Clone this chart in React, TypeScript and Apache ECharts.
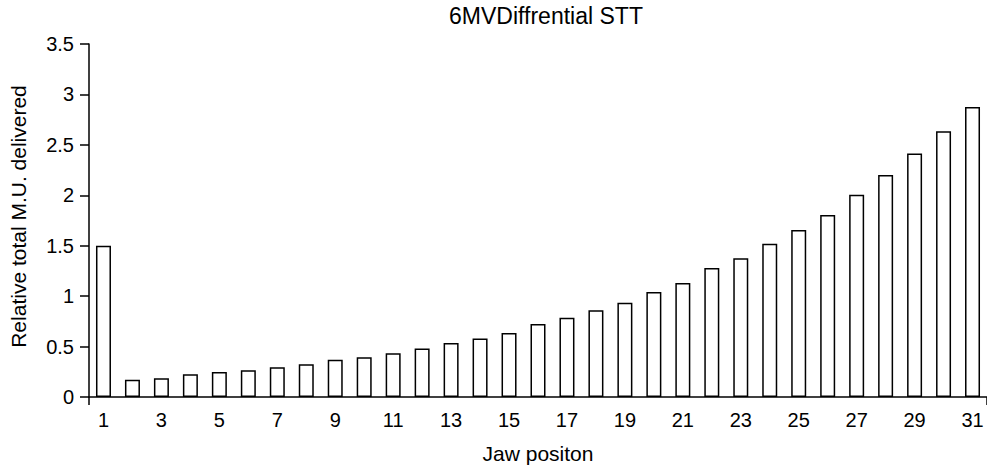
import React, { useEffect, useRef } from "react";
import * as echarts from "echarts";

const titleText = "6MVDiffrential STT";
const xAxisName = "Jaw positon";
const yAxisName = "Relative total M.U. delivered";
const categories = Array.from({ length: 31 }, (_, i) => String(i + 1));
const values = [
  1.5, 0.17, 0.185, 0.225, 0.248, 0.265, 0.295, 0.325, 0.37, 0.395, 0.435,
  0.48, 0.535, 0.58, 0.635, 0.725, 0.785, 0.86, 0.935, 1.04, 1.13, 1.28,
  1.375, 1.52, 1.655, 1.805, 2.005, 2.2, 2.415, 2.635, 2.875,
];
const yMin = 0;
const yMax = 3.5;
const yStep = 0.5;

const FONT = "Arial, 'Liberation Sans', Helvetica, sans-serif";

export default function App() {
  const ref = useRef<HTMLDivElement>(null);
  useEffect(() => {
    if (!ref.current) return;
    const chart = echarts.init(ref.current, undefined, { renderer: "svg" });
    chart.setOption({
      animation: false,
      backgroundColor: "#ffffff",
      textStyle: { fontFamily: FONT, color: "#000" },
      title: {
        text: titleText,
        left: 546,
        top: 4,
        padding: 0,
        textAlign: "center",
        textStyle: { fontFamily: FONT, fontSize: 23, fontWeight: "normal", color: "#000" },
      },
      grid: { left: 89, top: 44, bottom: 72, right: -5, containLabel: false },
      xAxis: {
        type: "category",
        data: categories,
        boundaryGap: true,
        name: xAxisName,
        nameLocation: "middle",
        nameGap: 46,
        nameTextStyle: { fontFamily: FONT, fontSize: 21, color: "#000" },
        axisLine: { show: true, lineStyle: { color: "#000", width: 1.5 } },
        axisTick: {
          show: true,
          interval: (i: number) => i === 0,
          length: 8,
          lineStyle: { color: "#000", width: 1.5 },
        },
        axisLabel: {
          interval: 1,
          margin: 13,
          fontFamily: FONT,
          fontSize: 20,
          color: "#000",
        },
        splitLine: { show: false },
      },
      yAxis: {
        type: "value",
        min: yMin,
        max: yMax,
        interval: yStep,
        name: yAxisName,
        nameLocation: "middle",
        nameGap: 60,
        nameRotate: 90,
        nameTextStyle: { fontFamily: FONT, fontSize: 21, color: "#000", padding: [0, 0, 0, 8] },
        axisLine: { show: true, lineStyle: { color: "#000", width: 1.5 } },
        axisTick: { show: true, inside: false, length: 9, lineStyle: { color: "#000", width: 1.5 } },
        axisLabel: { margin: 15, fontFamily: FONT, fontSize: 20, color: "#000" },
        splitLine: { show: false },
      },
      series: [
        {
          type: "bar",
          data: values,
          barWidth: 15,
          itemStyle: { color: "#ffffff", borderColor: "#000", borderWidth: 1.5 },
        },
      ],
    });
    return () => chart.dispose();
  }, []);
  return (
    <div
      ref={ref}
      style={{ position: "fixed", left: 0, top: 0, width: 987, height: 469, background: "#fff" }}
    />
  );
}
